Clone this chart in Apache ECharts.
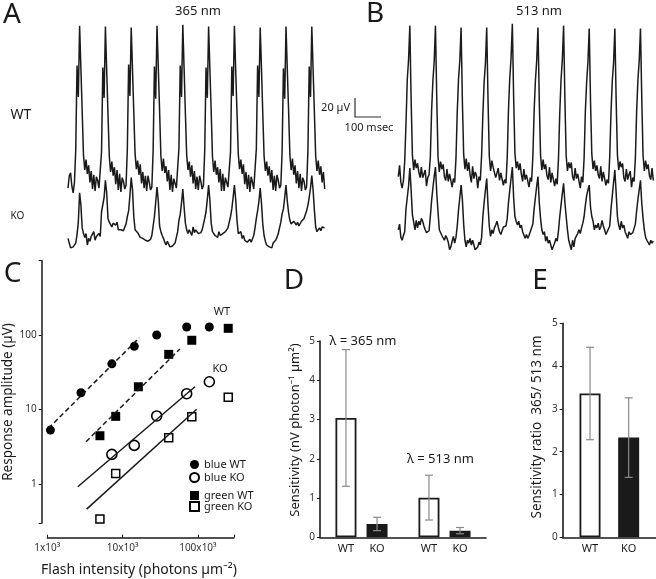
<!DOCTYPE html>
<html>
<head>
<meta charset="utf-8">
<script src="https://cdn.jsdelivr.net/npm/echarts@6/dist/echarts.min.js"></script>
<style>
html, body { margin: 0; background: #fff; }
#chart { width: 656px; height: 579px; }
</style>
</head>
<body>
<div id="chart"></div>
<script>
// flicker traces, one sample every 5 ms, values in µV
var stepMs = 5;
var wtA = [2, 15, 18, 4, -3, 8,
  42, 131, 98, 173, 128, 83, 37, 21, 32, 17, 26, 8, 20, 1, 16, -1, 14, 10, 2, 4,
  40, 129, 97, 172, 126, 80, 36, 19, 30, 15, 24, 6, 21, 0, 17, -2, 13, 9, 1, 5,
  43, 132, 99, 171, 127, 82, 38, 22, 31, 16, 27, 7, 19, 2, 15, -1, 15, 8, 0, 3,
  41, 130, 96, 173, 129, 84, 36, 20, 33, 18, 25, 9, 21, 0, 16, -2, 12, 10, 2, 4,
  44, 131, 98, 174, 128, 81, 37, 21, 30, 14, 26, 7, 20, 1, 14, 0, 15, 9, 1, 5,
  42, 129, 97, 172, 127, 83, 35, 19, 31, 16, 24, 8, 22, -1, 17, -1, 13, 11, 3, 4,
  40, 130, 99, 173, 126, 82, 38, 22, 32, 17, 27, 6, 19, 1, 16, -2, 14, 8, 1, 3,
  43, 131, 98, 171, 128, 80, 36, 20, 30, 15, 25, 8, 21, 0, 15, -1, 16, 10, 2, 5,
  41, 128, 96, 172, 127, 84, 37, 21, 33, 16, 26, 7, 20, 2, 17, -1, 13, 9, 0, 4,
  42, 130, 98, 172, 127, 82, 36, 20, 31, 16, 25, 8, 19, 1];
var koA = [7, 5, -3, -4, -2, -1,
  2, 11, 24, 55, 42, 18, 12, 8, 12, 0, 7, 4, 9, 7, 14, 5, 9, 9, 12, 9,
  35, 37, 50, 68, 55, 28, 24, 26, 19, 23, 24, 21, 24, 16, 18, 16, 18, 15, 19, 22,
  30, 36, 52, 71, 58, 30, 16, 14, 13, 14, 8, 10, 7, 8, 5, 7, 4, 5, 6, 10,
  20, 30, 45, 61, 46, 20, 14, 10, 7, 3, 0, 4, 2, -2, -4, -1, -3, 2, 8, 14,
  26, 32, 44, 59, 40, 23, 16, 12, 16, 14, 10, 19, 13, 16, 14, 12, 14, 13, 16, 18,
  28, 35, 48, 63, 47, 23, 14, 16, 10, 12, 8, 14, 10, 8, 12, 11, 14, 16, 18, 20,
  30, 38, 50, 63, 48, 26, 12, 10, 14, 7, 10, 5, 7, 3, 4, 6, 3, 5, 10, 18,
  28, 36, 46, 60, 44, 22, 10, 4, 0, 2, -2, 0, -3, 2, 0, 5, 8, 12, 18, 24,
  33, 38, 50, 63, 46, 34, 26, 22, 24, 25, 23, 21, 24, 20, 22, 25, 24, 28, 32, 36,
  42, 50, 60, 73, 58, 37, 19, 14, 15, 18, 15, 19, 20, 18];
var wtB = [14, 26, 8, 2, 10, 30,
  70, 116, 137, 173, 95, 37, 21, 32, 23, 28, 19, 13, 24, 13, 12, 21, 4, 13, 16, 35,
  84, 115, 135, 173, 97, 35, 19, 30, 22, 27, 14, 10, 22, 9, 17, 18, 3, 12, 8, 33,
  82, 117, 136, 171, 94, 38, 22, 33, 20, 29, 16, 8, 25, 12, 19, 15, 2, 14, 10, 36,
  80, 114, 134, 171, 96, 36, 20, 31, 24, 26, 13, 12, 23, 10, 18, 20, 5, 11, 7, 34,
  85, 118, 139, 175, 98, 39, 23, 30, 21, 28, 17, 9, 22, 11, 16, 17, 3, 13, 9, 35,
  83, 115, 136, 171, 95, 37, 21, 32, 22, 27, 15, 11, 24, 8, 18, 19, 4, 12, 6, 33,
  81, 116, 137, 173, 96, 36, 20, 29, 23, 29, 14, 10, 23, 12, 17, 16, 2, 14, 8, 34,
  84, 114, 135, 170, 94, 38, 22, 31, 20, 26, 16, 12, 25, 9, 19, 18, 5, 11, 7, 35,
  82, 115, 134, 170, 95, 37, 21, 30, 24, 28, 13, 9, 22, 11, 16, 20, 3, 13, 9, 33,
  83, 116, 136, 170, 96, 36, 20, 31, 22, 27, 15, 11, 23, 10];
var koB = [16, 22, 8, 5, 10, 14,
  38, 50, 62, 81, 58, 32, 24, 16, 26, 18, 25, 21, 28, 25, 20, 16, 13, 14, 15, 30,
  47, 60, 72, 82, 55, 35, 16, 18, 10, 12, 5, 10, 7, 3, -5, -2, 4, 9, 2, 8,
  20, 37, 50, 63, 48, 22, 5, -2, 5, 2, 7, 0, 5, 4, -5, -7, -2, 3, 0, 8,
  30, 45, 58, 70, 42, 20, 9, 16, 12, 18, 21, 25, 19, 14, 11, 15, 19, 17, 20, 28,
  45, 58, 70, 82, 50, 30, 25, 21, 25, 18, 21, 14, 16, 7, 11, 7, 10, 14, 12, 22,
  38, 50, 62, 72, 45, 28, 16, 11, 14, 4, 9, 2, 5, 0, -5, -5, 2, 7, 4, 15,
  30, 42, 54, 65, 45, 30, 16, 5, 0, -5, 5, -2, 7, 5, 12, 16, 12, 18, 23, 30,
  42, 52, 58, 63, 40, 30, 25, 16, 21, 18, 23, 16, 19, 26, 20, 16, 11, 14, 12, 20,
  38, 52, 66, 79, 55, 30, 21, 16, 25, 18, 21, 14, 12, 7, 14, 11, 9, 13, 11, 22,
  36, 48, 58, 68, 44, 28, 16, 8, 5, 5, 0, 5, 2, 4];

// panel C: flash intensity (photons/µm2) and response (µV)
var blueX = [1100, 2800, 7200, 14300, 28400, 71000, 142000];
var blueWT = [5.3, 16.8, 41, 70.5, 100, 128, 128];
var blueKOX = [7200, 14300, 28400, 71000, 142000];
var blueKO = [2.5, 3.3, 8.2, 16.3, 23.6];
var greenX = [5000, 8100, 16200, 41000, 83000, 253000];
var greenWT = [4.45, 8.1, 20.2, 55, 85, 123];
var greenKOX = [5000, 8100, 41000, 83000, 253000];
var greenKO = [0.34, 1.39, 4.18, 8.0, 14.6];
// fitted lines, [intensity, response] end points
var fitBlueWT = [[870, 4.7], [16700, 92]];
var fitGreenWT = [[3270, 3.7], [57800, 65]];
var fitBlueKO = [[2540, 0.92], [91400, 20.2]];
var fitGreenKO = [[3330, 0.46], [96400, 10.1]];
var xLabelsC = {1000: '1x10³', 10000: '10x10³', 100000: '100x10³'};
var yLabelsC = [1, 10, 100];

// panel D: sensitivity (nV photon-1 µm2)
var groupsD = ['λ = 365 nm', 'λ = 513 nm'];
var wtSens = [3.04, 1.01];
var wtSensErr = [1.74, 0.57];
var koSens = [0.34, 0.17];
var koSensErr = [0.17, 0.08];

// panel E: sensitivity ratio 365/513
var wtRatio = [3.36];
var wtRatioErr = [1.08];
var koRatio = [2.33];
var koRatioErr = [0.93];

var ink = '#1a1a1a';
var font = 'Noto Sans';

function trace(arr) {
    return arr.map(function (v, i) { return [i * stepMs, v]; });
}
function errData(m, e) {
    return m.map(function (v, i) { return [i, v - e[i], v + e[i]]; });
}
function errBars(dx) {
    return function (params, api) {
        var c = api.value(0);
        var lo = api.coord([c, api.value(1)]);
        var hi = api.coord([c, api.value(2)]);
        var x = lo[0] + dx;
        var st = {stroke: '#8a8a8a', lineWidth: 1.2};
        return {type: 'group', children: [
            {type: 'line', shape: {x1: x, y1: lo[1], x2: x, y2: hi[1]}, style: st},
            {type: 'line', shape: {x1: x - 4, y1: hi[1], x2: x + 4, y2: hi[1]}, style: st},
            {type: 'line', shape: {x1: x - 4, y1: lo[1], x2: x + 4, y2: lo[1]}, style: st}
        ]};
    };
}
function txt(s, x, y, size, opt) {
    opt = opt || {};
    return {
        type: 'text', x: x, y: y, rotation: opt.rot || 0, silent: true,
        style: {text: s, fontSize: size, fontFamily: font, fill: ink,
            align: opt.align || 'center', verticalAlign: 'middle'}
    };
}

var traceLen = (wtA.length - 1) * stepMs;
var hiddenX = function (g) { return {gridIndex: g, type: 'value', min: 0, max: traceLen, show: false}; };
var hiddenY = function (g, lo, hi) { return {gridIndex: g, type: 'value', min: lo, max: hi, show: false}; };
var traceSeries = function (g, arr) {
    return {type: 'line', xAxisIndex: g, yAxisIndex: g, data: trace(arr), symbol: 'none',
        lineStyle: {color: ink, width: 1.5}, silent: true};
};

var barW = 21;
var gapD = 0.48, gapE = 0.84;
var dxD = barW * (1 + gapD) / 2, dxE = barW * (1 + gapE) / 2;
var barLabel = {show: true, position: 'bottom', distance: 6, formatter: '{a}', fontSize: 11, color: ink, fontFamily: font};
var valAxis = function (g) {
    return {gridIndex: g, type: 'value', min: 0, max: 5, interval: 1,
        axisLine: {show: true, lineStyle: {color: ink, width: 1.6}},
        axisTick: {show: true, length: 3, lineStyle: {color: ink}},
        axisLabel: {fontSize: 10, margin: 5, color: '#333', fontFamily: font},
        splitLine: {show: false}};
};

option = {
    backgroundColor: '#fff',
    animation: false,
    textStyle: {fontFamily: font},
    grid: [
        {left: 68, top: 0, width: 256.7, height: 199.5, outerBoundsMode: 'none'},
        {left: 68, top: 150, width: 256.7, height: 104.5, outerBoundsMode: 'none'},
        {left: 398.3, top: 0, width: 255, height: 199.5, outerBoundsMode: 'none'},
        {left: 398.3, top: 150, width: 255, height: 104.5, outerBoundsMode: 'none'},
        {left: 47.3, top: 260.5, width: 186.5, height: 262.5, outerBoundsMode: 'none'},
        {left: 320, top: 341, width: 166, height: 196.3, outerBoundsMode: 'none'},
        {left: 562.7, top: 323.3, width: 93.3, height: 214, outerBoundsMode: 'none'}
    ],
    xAxis: [
        hiddenX(0), hiddenX(1), hiddenX(2), hiddenX(3),
        {gridIndex: 4, type: 'log', logBase: 10, min: 1000, max: 300000, offset: 14.7,
            axisLine: {lineStyle: {color: ink, width: 1.5}},
            axisTick: {inside: true, length: 3, lineStyle: {color: ink}},
            axisLabel: {fontSize: 10, margin: 5, color: '#333', fontFamily: font,
                formatter: function (v) { return xLabelsC[Math.round(v)] || ''; }},
            splitLine: {show: false}},
        {gridIndex: 5, type: 'category', data: groupsD,
            axisLine: {lineStyle: {color: ink, width: 1.6}},
            axisTick: {show: false}, axisLabel: {show: false}},
        {gridIndex: 6, type: 'category', data: ['ratio'],
            axisLine: {lineStyle: {color: ink, width: 1.6}},
            axisTick: {show: false}, axisLabel: {show: false}}
    ],
    yAxis: [
        hiddenY(0, -10, 200), hiddenY(1, -10, 100), hiddenY(2, -10, 200), hiddenY(3, -10, 100),
        {gridIndex: 4, type: 'log', logBase: 10, min: 0.3, max: 1000, offset: 5.6,
            axisLine: {show: true, lineStyle: {color: ink, width: 1.5}},
            axisTick: {show: true, length: 3, lineStyle: {color: ink}},
            axisLabel: {fontSize: 10, margin: 5, color: '#333', fontFamily: font,
                formatter: function (v) {
                    var r = Math.round(v);
                    return yLabelsC.indexOf(r) >= 0 && Math.abs(v - r) < 1e-6 ? String(r) : '';
                }},
            splitLine: {show: false}},
        valAxis(5), valAxis(6)
    ],
    legend: [
        {data: ['blue WT', 'blue KO'], orient: 'vertical', left: 184, top: 454, itemGap: 2,
            itemWidth: 9, itemHeight: 9, selectedMode: false,
            textStyle: {fontSize: 11, color: ink, fontFamily: font}},
        {data: ['green WT', 'green KO'], orient: 'vertical', left: 184, top: 485, itemGap: 0,
            itemWidth: 9, itemHeight: 9, selectedMode: false,
            textStyle: {fontSize: 11, color: ink, fontFamily: font}}
    ],
    series: [
        traceSeries(0, wtA), traceSeries(1, koA), traceSeries(2, wtB), traceSeries(3, koB),
        {name: 'fit blue WT', type: 'line', xAxisIndex: 4, yAxisIndex: 4, data: fitBlueWT, symbol: 'none', clip: false,
            lineStyle: {color: ink, width: 1.5, type: [5, 3]}},
        {name: 'fit green WT', type: 'line', xAxisIndex: 4, yAxisIndex: 4, data: fitGreenWT, symbol: 'none', clip: false,
            lineStyle: {color: ink, width: 1.5, type: [5, 3]}},
        {name: 'fit blue KO', type: 'line', xAxisIndex: 4, yAxisIndex: 4, data: fitBlueKO, symbol: 'none', clip: false,
            lineStyle: {color: ink, width: 1.5}},
        {name: 'fit green KO', type: 'line', xAxisIndex: 4, yAxisIndex: 4, data: fitGreenKO, symbol: 'none', clip: false,
            lineStyle: {color: ink, width: 1.5}},
        {name: 'blue WT', type: 'scatter', xAxisIndex: 4, yAxisIndex: 4, symbol: 'circle', symbolSize: 9,
            data: blueX.map(function (x, i) { return [x, blueWT[i]]; }),
            itemStyle: {color: '#000', opacity: 1}},
        {name: 'blue KO', type: 'scatter', xAxisIndex: 4, yAxisIndex: 4, symbol: 'circle', symbolSize: 10,
            data: blueKOX.map(function (x, i) { return [x, blueKO[i]]; }),
            itemStyle: {color: '#fff', borderColor: '#000', borderWidth: 1.6, opacity: 1}},
        {name: 'green WT', type: 'scatter', xAxisIndex: 4, yAxisIndex: 4, symbol: 'rect', symbolSize: 9,
            data: greenX.map(function (x, i) { return [x, greenWT[i]]; }),
            itemStyle: {color: '#000', opacity: 1}},
        {name: 'green KO', type: 'scatter', xAxisIndex: 4, yAxisIndex: 4, symbol: 'rect', symbolSize: 8,
            data: greenKOX.map(function (x, i) { return [x, greenKO[i]]; }),
            itemStyle: {color: '#fff', borderColor: '#000', borderWidth: 1.5, opacity: 1}},
        {name: 'WT', type: 'bar', xAxisIndex: 5, yAxisIndex: 5, data: wtSens, barWidth: barW, barGap: (gapD * 100) + '%',
            itemStyle: {color: '#fff', borderColor: ink, borderWidth: 1.8}, label: barLabel},
        {name: 'KO', type: 'bar', xAxisIndex: 5, yAxisIndex: 5, data: koSens, barWidth: barW,
            itemStyle: {color: ink, borderColor: ink, borderWidth: 1.8}, label: barLabel},
        {type: 'custom', xAxisIndex: 5, yAxisIndex: 5, data: errData(wtSens, wtSensErr), renderItem: errBars(-dxD), z: 5, silent: true},
        {type: 'custom', xAxisIndex: 5, yAxisIndex: 5, data: errData(koSens, koSensErr), renderItem: errBars(dxD), z: 5, silent: true},
        {name: 'WT', type: 'bar', xAxisIndex: 6, yAxisIndex: 6, data: wtRatio, barWidth: barW, barGap: (gapE * 100) + '%',
            itemStyle: {color: '#fff', borderColor: ink, borderWidth: 1.8}, label: barLabel},
        {name: 'KO', type: 'bar', xAxisIndex: 6, yAxisIndex: 6, data: koRatio, barWidth: barW,
            itemStyle: {color: ink, borderColor: ink, borderWidth: 1.8}, label: barLabel},
        {type: 'custom', xAxisIndex: 6, yAxisIndex: 6, data: errData(wtRatio, wtRatioErr), renderItem: errBars(-dxE), z: 5, silent: true},
        {type: 'custom', xAxisIndex: 6, yAxisIndex: 6, data: errData(koRatio, koRatioErr), renderItem: errBars(dxE), z: 5, silent: true}
    ],
    graphic: [
        txt('A', 12, 15, 28), txt('B', 375, 14, 28), txt('C', 12.5, 274, 28),
        txt('D', 294, 281, 28), txt('E', 540, 281, 28),
        txt('365 nm', 198, 11, 13), txt('513 nm', 539, 11, 13),
        txt('WT', 21, 115, 14), txt('KO', 17.5, 216, 10),
        txt('20 µV', 350, 108, 11, {align: 'right'}), txt('100 msec', 369, 128, 11),
        {type: 'polyline', silent: true, shape: {points: [[355, 98], [355, 117], [381, 117]]},
            style: {stroke: '#333', lineWidth: 1.2, fill: null}},
        txt('WT', 222, 312, 11), txt('KO', 220, 369, 11),
        txt('Response amplitude (µV)', 8, 402, 13.5, {rot: Math.PI / 2}),
        txt('Flash intensity (photons µm⁻²)', 139, 570, 14),
        txt(groupsD[0], 363, 341, 13), txt(groupsD[1], 440.5, 459, 13),
        txt('Sensitivity (nV photon⁻¹ µm²)', 295, 430, 13, {rot: Math.PI / 2}),
        txt('Sensitivity ratio  365/ 513 nm', 537, 427, 13.5, {rot: Math.PI / 2})
    ]
};

var chart = echarts.init(document.getElementById('chart'));
chart.setOption(option);
</script>
</body>
</html>
